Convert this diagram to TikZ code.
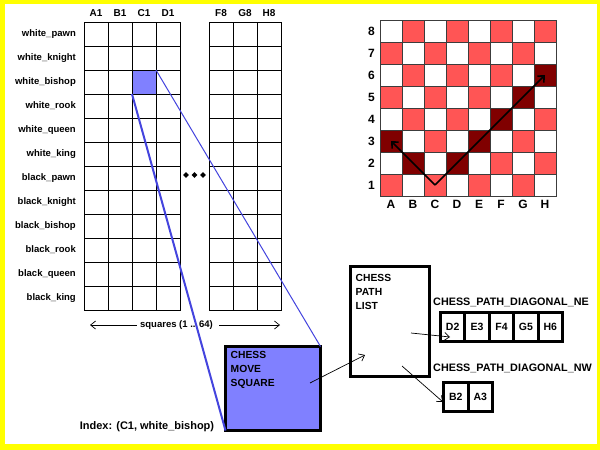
\documentclass[tikz,border=0pt]{standalone}
\usepackage{fontspec}
\setmainfont{Liberation Sans}
\usepackage{tikz}
\usetikzlibrary{positioning}
\usetikzlibrary{shapes.geometric}
\usetikzlibrary{arrows.meta}

\definecolor{bgyellow}{RGB}{255,255,0}
\definecolor{selblue}{RGB}{128,128,255}
\definecolor{wireblue}{RGB}{68,68,222}
\definecolor{sqred}{RGB}{255,85,85}
\definecolor{pathred}{RGB}{128,0,0}
\definecolor{boardline}{RGB}{60,60,60}

\begin{document}
\begin{tikzpicture}[x=1pt,y=-1pt]

  \tikzset{CELL/.style={draw, line width=0.9pt, minimum width=24pt, minimum height=24pt, inner sep=0pt, outer sep=0pt}}
  \tikzset{RLB/.style={font=\fontsize{9.5}{11}\selectfont\bfseries, inner sep=0pt}}
  \tikzset{CLB/.style={font=\fontsize{10}{12}\selectfont\bfseries, inner sep=0pt}}
  \tikzset{BRD/.style={draw=boardline, line width=0.7pt, minimum size=22pt, inner sep=0pt, outer sep=0pt}}
  \tikzset{BLB/.style={font=\fontsize{12}{14}\selectfont\bfseries, inner sep=0pt}}
  \tikzset{STR/.style={draw, line width=3pt, inner sep=0pt, outer sep=0pt}}
  \tikzset{STX/.style={font=\fontsize{10.3}{14}\selectfont\bfseries, align=left, inner sep=0pt}}
  \tikzset{LST/.style={draw, line width=3pt, minimum height=29pt, inner sep=0pt, outer sep=0pt, font=\fontsize{10.5}{12}\selectfont\bfseries}}
  \tikzset{LTL/.style={font=\fontsize{10.8}{12}\selectfont\bfseries, inner sep=0pt, anchor=west}}
  \tikzset{DOT/.style={diamond, fill, inner sep=0pt, minimum size=6pt}}
  \tikzset{LINK/.style={-{Straight Barb[length=5pt, width=8pt]}, line width=0.7pt}}
  \tikzset{MOVE/.style={-{Straight Barb[length=5pt, width=9pt]}, line width=1.6pt}}

  % frame
  \fill[bgyellow] (0,0) rectangle (600,450);
  \fill[white] (5,4) rectangle (597,444);

  % piece x square table
  \foreach \r in {0,...,11} {
    \foreach \c in {0,...,3}
      \node[CELL] (L\c-\r) at (96+24*\c, 34+24*\r) {};
    \foreach \c in {0,...,2}
      \node[CELL] (R\c-\r) at (221+24*\c, 34+24*\r) {};
  }
  \node[CELL, fill=selblue] (sel) at (L2-2) {};

  \foreach \c/\t in {0/A1,1/B1,2/C1,3/D1}
    \node[CLB, above=5pt of L\c-0] (cl\c) {\t};
  \foreach \c/\t in {0/F8,1/G8,2/H8}
    \node[CLB, above=5pt of R\c-0] (cr\c) {\t};

  \foreach \t [count=\r from 0] in {white\_pawn, white\_knight, white\_bishop, white\_rook,
      white\_queen, white\_king, black\_pawn, black\_knight, black\_bishop, black\_rook,
      black\_queen, black\_king}
    \node[RLB, left=8pt of L0-\r] (rl\r) {\t};

  \foreach \x [count=\i] in {186,194.5,203}
    \node[DOT] (dot\i) at (\x,175) {};

  \node[RLB] (span) at (176.5,325) {squares (1 .. 64)};
  \coordinate (spanL) at (90,325);
  \coordinate (spanR) at (280,325);
  \draw[LINK] ([xshift=-3pt]span.west) -- (spanL);
  \draw[LINK] ([xshift=6pt]span.east) -- (spanR);

  % board
  \foreach \f in {0,...,7}
    \foreach \k in {0,...,7} {
      \pgfmathtruncatemacro\sqsum{\f+\k}
      \ifodd\sqsum \def\shade{white}\else\def\shade{sqred}\fi
      \node[BRD, fill=\shade] (B\f\k) at (391+22*\f, 185-22*\k) {};
    }
  \foreach \s in {02,11,31,42,53,64,75}
    \node[BRD, fill=pathred] (P\s) at (B\s) {};

  \foreach \t [count=\k from 0] in {1,...,8}
    \node[BLB, left=5pt of B0\k] (rk\k) {\t};
  \foreach \t [count=\f from 0] in {A,B,C,D,E,F,G,H}
    \node[BLB, below=4pt of B\f0] (fl\f) {\t};

  \draw[MOVE] (B20.center) -- (B02.center);
  \draw[MOVE] (B20.center) -- (B75.center);

  % structures
  \node[STR, fill=selblue, minimum width=95pt, minimum height=84pt] (move) at (273,388.5) {};
  \node[STX, below right=5pt and 5pt of move.north west] (movetxt) {CHESS\\MOVE\\SQUARE};

  \node[STR, fill=white, minimum width=79pt, minimum height=110pt] (plist) at (390,321.5) {};
  \node[STX, below right=8pt and 5pt of plist.north west] (plisttxt) {CHESS\\PATH\\LIST};

  \node[LST, minimum width=24.4pt] (ne1) at (452.7,327) {D2};
  \node[LST, minimum width=24.4pt, right=0pt of ne1] (ne2) {E3};
  \node[LST, minimum width=24.4pt, right=0pt of ne2] (ne3) {F4};
  \node[LST, minimum width=24.4pt, right=0pt of ne3] (ne4) {G5};
  \node[LST, minimum width=24.4pt, right=0pt of ne4] (ne5) {H6};
  \node[LTL] (nelbl) at (433,302) {CHESS\_PATH\_DIAGONAL\_NE};

  \node[LST, minimum width=24.5pt] (nw1) at (455.75,397) {B2};
  \node[LST, minimum width=24.5pt, right=0pt of nw1] (nw2) {A3};
  \node[LTL] (nwlbl) at (433,368) {CHESS\_PATH\_DIAGONAL\_NW};

  % index lines
  \draw[wireblue, line width=2pt] (sel.south west) -- (move.south west);
  \draw[wireblue, line width=1pt] (sel.north east) -- (move.north east);
  \node[font=\fontsize{11}{13}\selectfont\bfseries, inner sep=0pt] (idx) at (147,427) {Index: (C1, white\_bishop)};

  % links
  \coordinate (mvfrom) at (310,383);
  \coordinate (plto) at (365,355);
  \coordinate (plne) at (411,333);
  \coordinate (neto) at (450,337);
  \coordinate (plnw) at (402,366);
  \coordinate (nwto) at (443,402);
  \draw[LINK] (mvfrom) -- (plto);
  \draw[LINK] (plne) -- (neto);
  \draw[LINK] (plnw) -- (nwto);

\end{tikzpicture}
\end{document}
